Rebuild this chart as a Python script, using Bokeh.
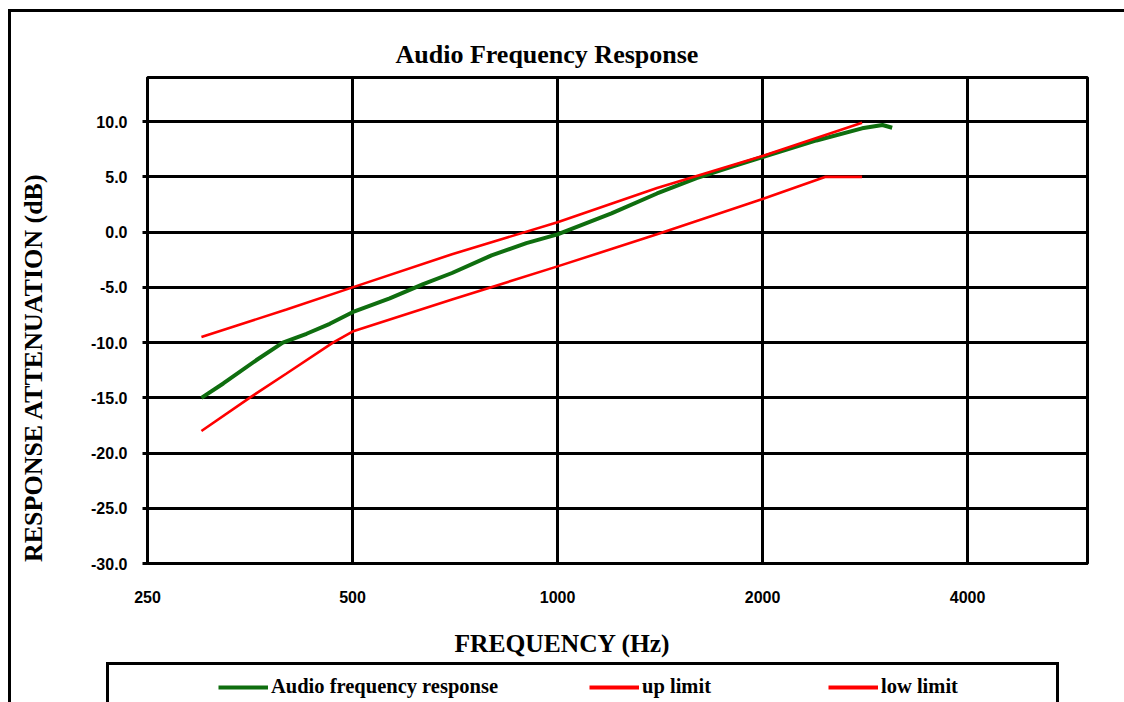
from bokeh.plotting import figure
from bokeh.models import (FixedTicker, PrintfTickFormatter, Legend, LegendItem,
                          Range1d, Label, InlineStyleSheet)
from bokeh.layouts import column, row
from bokeh.embed import file_html
from bokeh.resources import INLINE

# ---- data ----
x_ticks = [250, 500, 1000, 2000, 4000]
y_ticks = [-30, -25, -20, -15, -10, -5, 0, 5, 10]

freq_resp = [300, 323, 361, 395, 428, 463, 500, 567, 635, 700, 800, 900, 1000, 1200, 1400, 1600, 1800, 2000, 2400, 2800, 3000, 3100]
resp_db = [-15.0, -13.7, -11.6, -10.0, -9.2, -8.3, -7.25, -6.0, -4.7, -3.7, -2.1, -1.0, -0.2, 1.7, 3.5, 4.9, 5.9, 6.8, 8.3, 9.4, 9.7, 9.45]

freq_up = [300, 400, 500, 700, 1000, 1400, 2000, 2800]
up_db = [-9.5, -7.0, -5.0, -2.0, 0.9, 4.0, 6.9, 9.9]

freq_low = [300, 353, 400, 468, 500, 700, 1000, 1400, 2000, 2470, 2800]
low_db = [-18.0, -15.0, -12.8, -10.0, -9.0, -6.1, -3.1, -0.2, 3.0, 5.0, 5.0]

series_names = ["Audio frequency response", "up limit", "low limit"]
title_text = "Audio Frequency Response"
x_title = "FREQUENCY (Hz)"
y_title = "RESPONSE ATTENUATION (dB)"

GREEN = "#0f6e0f"
RED = "#ff0000"
SERIF = "Liberation Serif"
SANS = "Liberation Sans"

W, H = 1124, 702
STRIP_W = 70          # left strip holding the y title
TOP_H = 610           # height of the upper row
FL, FT, FR, FB = 147, 77, 1087, 563  # plot-area edges in page pixels

# ---------------- main plot ----------------
p = figure(width=W - STRIP_W, height=TOP_H, x_axis_type="log",
           x_range=Range1d(250, 6000), y_range=Range1d(-30, 14),
           output_backend="svg", toolbar_location=None,
           min_border_left=FL - STRIP_W, min_border_right=W - FR,
           min_border_top=FT, min_border_bottom=TOP_H - FB)

p.outline_line_color = "black"
p.outline_line_width = 3
p.background_fill_color = "white"
p.border_fill_color = "white"

p.xaxis.ticker = FixedTicker(ticks=x_ticks)
p.xaxis.formatter = PrintfTickFormatter(format="%d")
p.yaxis.ticker = FixedTicker(ticks=y_ticks)
p.yaxis.formatter = PrintfTickFormatter(format="%.1f")
for ax in (p.xaxis, p.yaxis):
    ax.axis_line_color = "black"
    ax.axis_line_width = 3
    ax.major_tick_line_color = "black"
    ax.major_tick_line_width = 3
    ax.minor_tick_line_color = None
    ax.major_tick_in = 0
    ax.major_label_text_font = SANS
    ax.major_label_text_font_style = "bold"
    ax.major_label_text_font_size = "16px"
    ax.major_label_text_color = "black"
p.xaxis.major_tick_out = 0
p.xaxis.major_label_standoff = 27
p.yaxis.major_tick_out = 5
p.yaxis.major_label_standoff = 15

p.xgrid.ticker = FixedTicker(ticks=x_ticks)
p.ygrid.ticker = FixedTicker(ticks=y_ticks)
for g in (p.xgrid, p.ygrid):
    g.grid_line_color = "black"
    g.grid_line_width = 3

p.line(freq_resp, resp_db, line_color=GREEN, line_width=4)
p.line(freq_up, up_db, line_color=RED, line_width=2.6)
p.line(freq_low, low_db, line_color=RED, line_width=2.6)

p.title.text = title_text
p.title.align = "left"
p.title.offset = 395 - FL
p.title.vertical_align = "bottom"
p.title.standoff = 18
p.title.text_font = SERIF
p.title.text_font_style = "bold"
p.title.text_font_size = "26px"
p.title.text_color = "black"


def blank_panel(w, h, xr=(0, 1), yr=(0, 1)):
    f = figure(width=w, height=h, x_range=Range1d(*xr), y_range=Range1d(*yr),
               output_backend="svg", toolbar_location=None,
               x_axis_location=None, y_axis_location=None,
               min_border=0, min_border_left=0, min_border_right=0,
               min_border_top=0, min_border_bottom=0)
    f.grid.visible = False
    f.outline_line_color = None
    f.background_fill_color = "white"
    f.border_fill_color = "white"
    return f


# ---------------- left strip: y-axis title ----------------
ys = blank_panel(STRIP_W, TOP_H)
ys.add_layout(Label(x=33, y=196, x_units="screen", y_units="screen",
                    text=y_title, text_font=SERIF, text_font_style="bold",
                    text_font_size="26px", text_color="black",
                    text_align="center", text_baseline="middle",
                    angle=90, angle_units="deg"))

# ---------------- bottom strip: x-axis title and legend ----------------
BOT_H = H - TOP_H
# its ranges are far from the data, so the series drawn here only feed the legend
bs = blank_panel(W, BOT_H, xr=(0, 1), yr=(100, 101))
bs.add_layout(Label(x=562, y=H - 643, x_units="screen", y_units="screen",
                    text=x_title, text_font=SERIF, text_font_style="bold",
                    text_font_size="25.5px", text_color="black",
                    text_align="center", text_baseline="middle"))

leg_renderers = [
    bs.line(freq_resp, resp_db, line_color=GREEN, line_width=4),
    bs.line(freq_up, up_db, line_color=RED, line_width=4),
    bs.line(freq_low, low_db, line_color=RED, line_width=4),
]
legend = Legend(items=[LegendItem(label=n, renderers=[r])
                       for n, r in zip(series_names, leg_renderers)],
                location=(218, 4), orientation="horizontal",
                padding=0, margin=0, spacing=91,
                border_line_color=None, background_fill_alpha=0,
                glyph_width=50, glyph_height=22, label_height=22,
                label_standoff=3, label_width=95,
                label_text_font=SERIF, label_text_font_style="bold",
                label_text_font_size="20.5px", label_text_color="black")
bs.add_layout(legend)

layout = column(row(ys, p, spacing=0), bs, spacing=0)
layout.stylesheets = [InlineStyleSheet(css="""
:host { position: relative; }
:host::before { content: ""; position: absolute; left: 8px; top: 9px;
  width: 1113px; height: 690px; border-left: 3px solid #000; border-top: 3px solid #000;
  pointer-events: none; z-index: 5; }
:host::after { content: ""; position: absolute; left: 106px; top: 662px;
  width: 947px; height: 40px; border-left: 3px solid #000; border-top: 3px solid #000;
  border-right: 3px solid #000; pointer-events: none; z-index: 5; }
""")]

open("out.html", "w").write(file_html(layout, INLINE))
